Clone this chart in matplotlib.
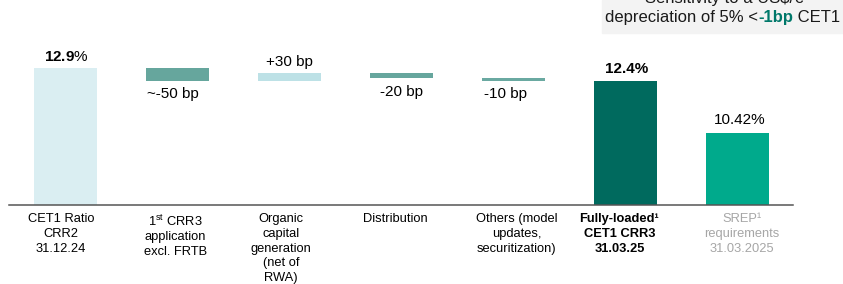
import matplotlib
matplotlib.use("Agg")
import matplotlib.pyplot as plt
from matplotlib.patches import Rectangle

plt.rcParams['font.family'] = ['Liberation Sans', 'DejaVu Sans']
plt.rcParams['mathtext.fontset'] = 'custom'
plt.rcParams['mathtext.rm'] = 'Liberation Sans'
plt.rcParams['mathtext.it'] = 'Liberation Sans:italic'
plt.rcParams['mathtext.bf'] = 'Liberation Sans:bold'

# ---- data ----
categories = [
    "CET1 Ratio\nCRR2\n31.12.24",
    "1$^{\\mathrm{st}}$ CRR3\napplication\nexcl. FRTB",
    "Organic\ncapital\ngeneration\n(net of\nRWA)",
    "Distribution",
    "Others (model\nupdates,\nsecuritization)",
    "Fully-loaded\u00b9\nCET1 CRR3\n31.03.25",
    "SREP\u00b9\nrequirements\n31.03.2025",
]
start_value = 12.9
deltas = [-0.5, 0.3, -0.2, -0.1]
delta_labels = ["~-50 bp", "+30 bp", "-20 bp", "-10 bp"]
end_value = 12.4
srep_value = 10.42
value_labels = [r"$\mathbf{12.9}$%", "12.4%", "10.42%"]
note_line1 = "Sensitivity to a US\\$/\u20ac"
note_parts = ["depreciation of 5% <", "-1bp", " CET1"]

# ---- styling ----
y_base = 7.62
colors = ["#daeef2", "#66a69d", "#bde1e6", "#66a69d", "#6aa9a1", "#006a5e", "#00aa8c"]
cat_dx = [-4, -1.5, -8, -6, 3.5, -5.5, 5]
lab_dx = [-4.5, 0, 0, -7]

fig = plt.figure(figsize=(8.43, 2.84), dpi=100)
ax = fig.add_axes([9 / 843, 78.7 / 284, (793 - 9) / 843, (205.3 - 40) / 284])
ax.set_xlim(-0.5, 6.5)
ax.set_ylim(y_base, y_base + 165.3 / 26)
width = 0.5625

# first bar
ax.bar(0, start_value - y_base, bottom=y_base, width=width, color=colors[0])
ax.annotate(value_labels[0], xy=(0, start_value), xytext=(1, 11.5), textcoords='offset pixels',
            ha='center', va='center', fontsize=11)

# waterfall steps
level = start_value
for i, d in enumerate(deltas):
    x = i + 1
    lo, hi = min(level, level + d), max(level, level + d)
    ax.bar(x, hi - lo, bottom=lo, width=width, color=colors[x])
    if d > 0:
        ax.annotate(delta_labels[i], xy=(x, hi), xytext=(lab_dx[i], 11.5), textcoords='offset pixels',
                    ha='center', va='center', fontsize=11)
    else:
        ax.annotate(delta_labels[i], xy=(x, lo), xytext=(lab_dx[i], -13.3), textcoords='offset pixels',
                    ha='center', va='center', fontsize=11)
    level += d

# end bar
ax.bar(5, end_value - y_base, bottom=y_base, width=width, color=colors[5])
ax.annotate(value_labels[1], xy=(5, end_value), xytext=(2, 12), textcoords='offset pixels',
            ha='center', va='center', fontsize=11, fontweight='bold')

# SREP bar
ax.bar(6, srep_value - y_base, bottom=y_base, width=width, color=colors[6])
ax.annotate(value_labels[2], xy=(6, srep_value), xytext=(3, 12), textcoords='offset pixels',
            ha='center', va='center', fontsize=11)

# category labels
for i, c in enumerate(categories):
    kw = dict(ha='center', va='top', fontsize=9.3, linespacing=1.3, multialignment='center')
    if i == 5:
        kw['fontweight'] = 'bold'
    if i == 6:
        kw['color'] = '#a6a6a6'
    ax.annotate(c, xy=(i, y_base), xytext=(cat_dx[i], -8), textcoords='offset pixels',
                annotation_clip=False, **kw)

for s in ['top', 'right', 'left']:
    ax.spines[s].set_visible(False)
ax.spines['bottom'].set_color('#555555')
ax.spines['bottom'].set_linewidth(1.1)
ax.set_xticks([])
ax.set_yticks([])
ax.patch.set_alpha(0)

# sensitivity box (top right)
fig.patches.append(Rectangle((602 / 843, (284 - 33) / 284), 1 - 602 / 843, 33 / 284,
                             transform=fig.transFigure, color='#f3f3f3', zorder=0))
fig.text(724 / 843, (284 - 3) / 284, note_line1, ha='center', va='baseline',
         fontsize=12, color='#1a1a1a')

renderer = fig.canvas.get_renderer()
x_px = 605.0
y_fig = (284 - 22) / 284
styles = [dict(color='#1a1a1a'), dict(color='#00786a', fontweight='bold'), dict(color='#1a1a1a')]
for part, st in zip(note_parts, styles):
    t = fig.text(x_px / 843, y_fig, part, ha='left', va='baseline', fontsize=12, **st)
    bb = t.get_window_extent(renderer)
    x_px += bb.width

fig.savefig("out.png", dpi=100)
